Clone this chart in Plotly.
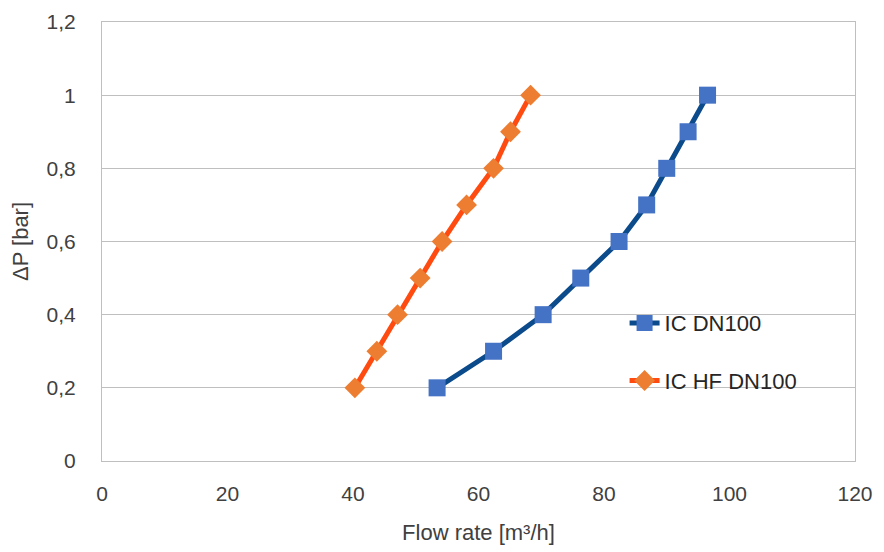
import plotly.graph_objects as go

dp_values = [0.2, 0.3, 0.4, 0.5, 0.6, 0.7, 0.8, 0.9, 1.0]
flow_ic_dn100 = [53.4, 62.4, 70.3, 76.3, 82.4, 86.8, 90.0, 93.4, 96.5]
flow_ic_hf_dn100 = [40.3, 43.8, 47.1, 50.7, 54.2, 58.1, 62.4, 65.1, 68.3]
x_ticks = [0, 20, 40, 60, 80, 100, 120]
y_ticks = [0, 0.2, 0.4, 0.6, 0.8, 1.0, 1.2]

font_family = "Liberation Sans, Arial, sans-serif"

fig = go.Figure()
fig.add_trace(go.Scatter(
    x=flow_ic_dn100, y=dp_values, name="IC DN100", mode="lines+markers",
    line=dict(color="#0B4A8B", width=5),
    marker=dict(symbol="square", size=17, color="#4472C4"),
    legendgroup="a",
))
fig.add_trace(go.Scatter(
    x=flow_ic_hf_dn100, y=dp_values, name="IC HF DN100", mode="lines+markers",
    line=dict(color="#FF4B10", width=5),
    marker=dict(symbol="diamond", size=16, color="#ED7D31"),
    legendgroup="b",
))

axis_common = dict(
    showline=True, linecolor="#BFBFBF", linewidth=1, mirror=True,
    ticks="", zeroline=False, automargin=False,
    tickfont=dict(family=font_family, size=21, color="#404040"),
)
fig.update_xaxes(
    range=[0, 120], tickvals=x_ticks, showgrid=False,
    title=dict(text="Flow rate [m³/h]", font=dict(family=font_family, size=22, color="#404040"), standoff=20),
    ticklabelstandoff=14, **axis_common,
)
fig.update_yaxes(
    range=[0, 1.2], tickvals=y_ticks, showgrid=True, gridcolor="#BFBFBF", gridwidth=1,
    title=dict(text="ΔP [bar]", font=dict(family=font_family, size=22, color="#404040"), standoff=12),
    ticklabelstandoff=21, **axis_common,
)
fig.update_layout(
    width=884, height=552,
    margin=dict(l=94, r=37, t=14, b=99),
    paper_bgcolor="white", plot_bgcolor="white",
    separators=",.",
    showlegend=True,
    legend=dict(
        x=0.694, y=0.362, xanchor="left", yanchor="top",
        bgcolor="rgba(0,0,0,0)", tracegroupgap=26,
        font=dict(family=font_family, size=22, color="#262626"),
    ),
)
fig.write_html("out.html")
